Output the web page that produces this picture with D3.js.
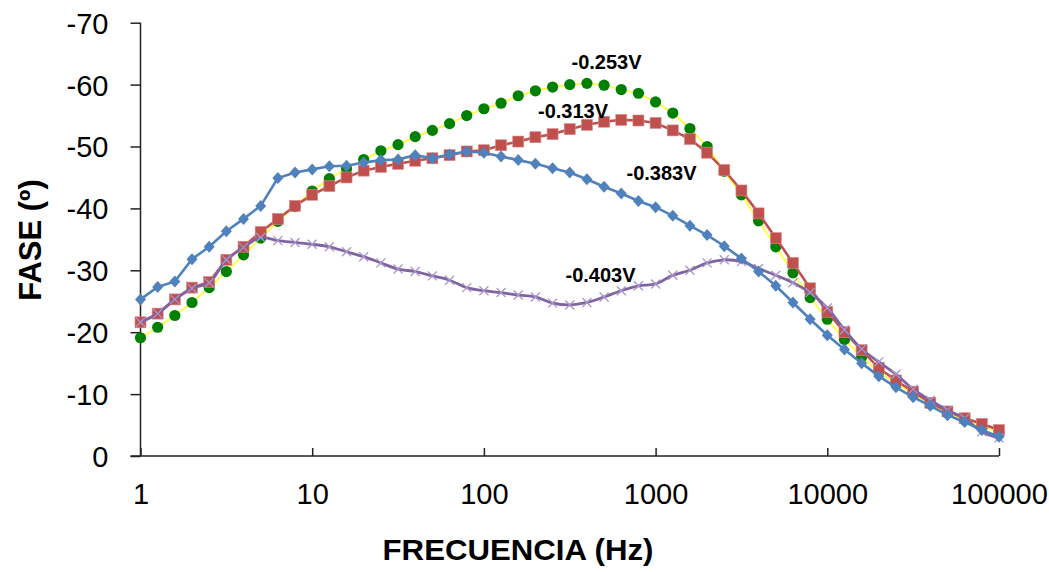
<!DOCTYPE html>
<html>
<head>
<meta charset="utf-8">
<script src="https://cdn.jsdelivr.net/npm/d3@7"></script>
<style>
  html, body { margin: 0; padding: 0; background: #fff; }
  svg { display: block; }
  text { font-family: "Liberation Sans", Arial, sans-serif; fill: #000; }
</style>
</head>
<body>
<svg id="chart" width="1049" height="572"></svg>
<script>
// Frequencies (Hz), ten points per decade
const frequencies = [
  1, 1.259, 1.585, 1.995, 2.512, 3.162, 3.981, 5.012, 6.310, 7.943,
  10, 12.59, 15.85, 19.95, 25.12, 31.62, 39.81, 50.12, 63.10, 79.43,
  100, 125.9, 158.5, 199.5, 251.2, 316.2, 398.1, 501.2, 631.0, 794.3,
  1000, 1259, 1585, 1995, 2512, 3162, 3981, 5012, 6310, 7943,
  10000, 12589, 15849, 19953, 25119, 31623, 39811, 50119, 63096, 79433, 100000
];

// Phase (degrees) for each applied potential
const phase253 = [
  -19.1, -20.8, -22.7, -24.8, -27.2, -29.8, -32.5, -35.2, -37.9, -40.3,
  -42.8, -44.8, -46.4, -47.9, -49.3, -50.3, -51.6, -52.6, -53.7, -55.0,
  -56.1, -57.0, -58.2, -59.0, -59.6, -60.0, -60.2, -59.9, -59.2, -58.6,
  -57.2, -55.4, -52.9, -50.0, -46.0, -42.2, -38.0, -33.8, -29.6, -25.6,
  -22.1, -18.8, -16.0, -13.6, -11.7, -10.0, -8.4, -7.0, -5.8, -4.8, -3.8
];
const phase313 = [
  -21.6, -23.0, -25.3, -27.2, -28.1, -31.7, -33.8, -36.2, -38.3, -40.4,
  -42.2, -43.6, -45.0, -46.1, -46.7, -47.2, -47.7, -48.1, -48.6, -49.2,
  -49.4, -50.2, -50.8, -51.5, -52.0, -52.8, -53.5, -54.0, -54.3, -54.2,
  -53.8, -52.6, -51.2, -49.0, -46.2, -42.9, -39.2, -35.2, -31.2, -27.1,
  -23.3, -20.0, -17.1, -14.2, -12.2, -10.4, -8.6, -7.2, -6.1, -5.2, -4.2
];
const phase383 = [
  -25.3, -27.3, -28.2, -31.8, -33.8, -36.3, -38.3, -40.4, -44.9, -45.8,
  -46.3, -46.8, -46.9, -47.4, -47.8, -47.9, -48.6, -48.1, -48.7, -49.2,
  -49.0, -48.4, -47.8, -47.2, -46.5, -45.8, -44.7, -43.5, -42.4, -41.2,
  -40.2, -38.8, -37.2, -35.7, -33.9, -31.9, -29.8, -27.5, -24.8, -22.1,
  -19.5, -17.2, -15.0, -12.9, -11.1, -9.5, -8.1, -6.6, -5.5, -4.2, -3.1
];
const phase403 = [
  -21.6, -23.0, -25.3, -27.1, -28.0, -31.7, -33.7, -35.3, -34.8, -34.5,
  -34.2, -33.8, -33.0, -32.2, -31.2, -30.2, -29.8, -29.1, -28.4, -27.2,
  -26.7, -26.4, -26.0, -25.7, -24.7, -24.4, -24.8, -25.7, -26.7, -27.5,
  -27.8, -29.2, -30.0, -31.2, -31.7, -31.4, -30.3, -29.2, -28.0, -26.4,
  -23.9, -20.4, -17.3, -15.2, -13.2, -10.8, -9.0, -7.4, -6.1, -3.9, -2.9
];

const seriesLabels = ["-0.253V", "-0.313V", "-0.383V", "-0.403V"];
const xTicks = [1, 10, 100, 1000, 10000, 100000];
const yTicks = [0, -10, -20, -30, -40, -50, -60, -70];

const svg = d3.select("#chart");

const x = d3.scaleLog().domain([1, 100000]).range([140.5, 999]);
const y = d3.scaleLinear().domain([0, -70]).range([456, 22.7]);

const pts = vals => vals.map((v, i) => [frequencies[i], v]);

// Axes
const yAxis = svg.append("g").attr("transform", "translate(140.5,0)")
  .call(d3.axisLeft(y).tickValues(yTicks).tickSize(10).tickFormat(d3.format("d")));
yAxis.select(".domain").attr("stroke", "#222").attr("stroke-width", 1.5).attr("d", `M0,${y(-70)}V${y(0)}`);
yAxis.selectAll(".tick line").attr("stroke", "#222").attr("stroke-width", 1.5);
yAxis.selectAll(".tick text")
  .attr("x", -32).attr("dy", "0.36em")
  .style("font-size", "29px").style("font-family", "Liberation Sans, Arial, sans-serif")
  .text(d => d === 0 ? "0" : "-" + Math.abs(d));

const xAxis = svg.append("g").attr("transform", `translate(0,${y(0)})`)
  .call(d3.axisBottom(x).tickValues(xTicks).tickSize(-8).tickFormat(d3.format("d")));
xAxis.select(".domain").attr("stroke", "#222").attr("stroke-width", 1.5).attr("d", `M130.5,0H${x(100000)}`);
xAxis.selectAll(".tick line").attr("stroke", "#222").attr("stroke-width", 1.5);
xAxis.selectAll(".tick text")
  .attr("y", 38).attr("dy", "0.36em")
  .style("font-size", "29px").style("font-family", "Liberation Sans, Arial, sans-serif");

// Axis titles
svg.append("text")
  .attr("x", 518).attr("y", 560)
  .attr("text-anchor", "middle")
  .style("font-size", "30px").style("font-weight", "bold")
  .attr("transform", "translate(518,0) scale(1.04,1) translate(-518,0)")
  .text("FRECUENCIA (Hz)");
svg.append("text")
  .attr("transform", "translate(41,240) rotate(-90)")
  .attr("text-anchor", "middle")
  .style("font-size", "31px").style("font-weight", "bold")
  .text("FASE (º)");

const plot = svg.append("g");

const lineLin = d3.line().x(d => x(d[0])).y(d => y(d[1]));
const lineSmooth = d3.line().x(d => x(d[0])).y(d => y(d[1])).curve(d3.curveCatmullRom.alpha(0.5));

// -0.253 V : yellow line, green circles
plot.append("path").datum(pts(phase253))
  .attr("d", lineLin).attr("fill", "none").attr("stroke", "#ffff3a").attr("stroke-width", 1.8);
plot.append("g").selectAll("circle").data(pts(phase253)).join("circle")
  .attr("cx", d => x(d[0])).attr("cy", d => y(d[1])).attr("r", 5.6).attr("fill", "#008000");

// -0.313 V : red line, squares
plot.append("path").datum(pts(phase313))
  .attr("d", lineLin).attr("fill", "none").attr("stroke", "#c0504d").attr("stroke-width", 2.6);
plot.append("g").selectAll("rect").data(pts(phase313)).join("rect")
  .attr("x", d => x(d[0]) - 5.5).attr("y", d => y(d[1]) - 5.5)
  .attr("width", 11).attr("height", 11)
  .attr("fill", "#c0504d").attr("stroke", "#d88a88").attr("stroke-width", 0.6);

// -0.403 V : smoothed purple line, x markers
plot.append("path").datum(pts(phase403))
  .attr("d", lineSmooth).attr("fill", "none").attr("stroke", "#8064a2").attr("stroke-width", 2.8);
plot.append("g").selectAll("path").data(pts(phase403)).join("path")
  .attr("transform", d => `translate(${x(d[0])},${y(d[1])})`)
  .attr("d", "M-4.5,-4.5L4.5,4.5M-4.5,4.5L4.5,-4.5")
  .attr("stroke", "#a996c8").attr("stroke-width", 1.3).attr("fill", "none");

// -0.383 V : blue line, diamonds
plot.append("path").datum(pts(phase383))
  .attr("d", lineLin).attr("fill", "none").attr("stroke", "#4f81bd").attr("stroke-width", 2.6);
plot.append("g").selectAll("path").data(pts(phase383)).join("path")
  .attr("transform", d => `translate(${x(d[0])},${y(d[1])})`)
  .attr("d", "M0,-6L5.5,0L0,6L-5.5,0Z")
  .attr("fill", "#4f81bd");

// Series labels
const labelPos = [[606.5, 62], [573, 110.5], [661.5, 172.5], [600.5, 274.5]];
svg.append("g").selectAll("text").data(seriesLabels).join("text")
  .attr("x", (d, i) => labelPos[i][0]).attr("y", (d, i) => labelPos[i][1])
  .attr("dy", "0.36em").attr("text-anchor", "middle")
  .style("font-size", "20px").style("font-weight", "bold")
  .text(d => d);
</script>
</body>
</html>
